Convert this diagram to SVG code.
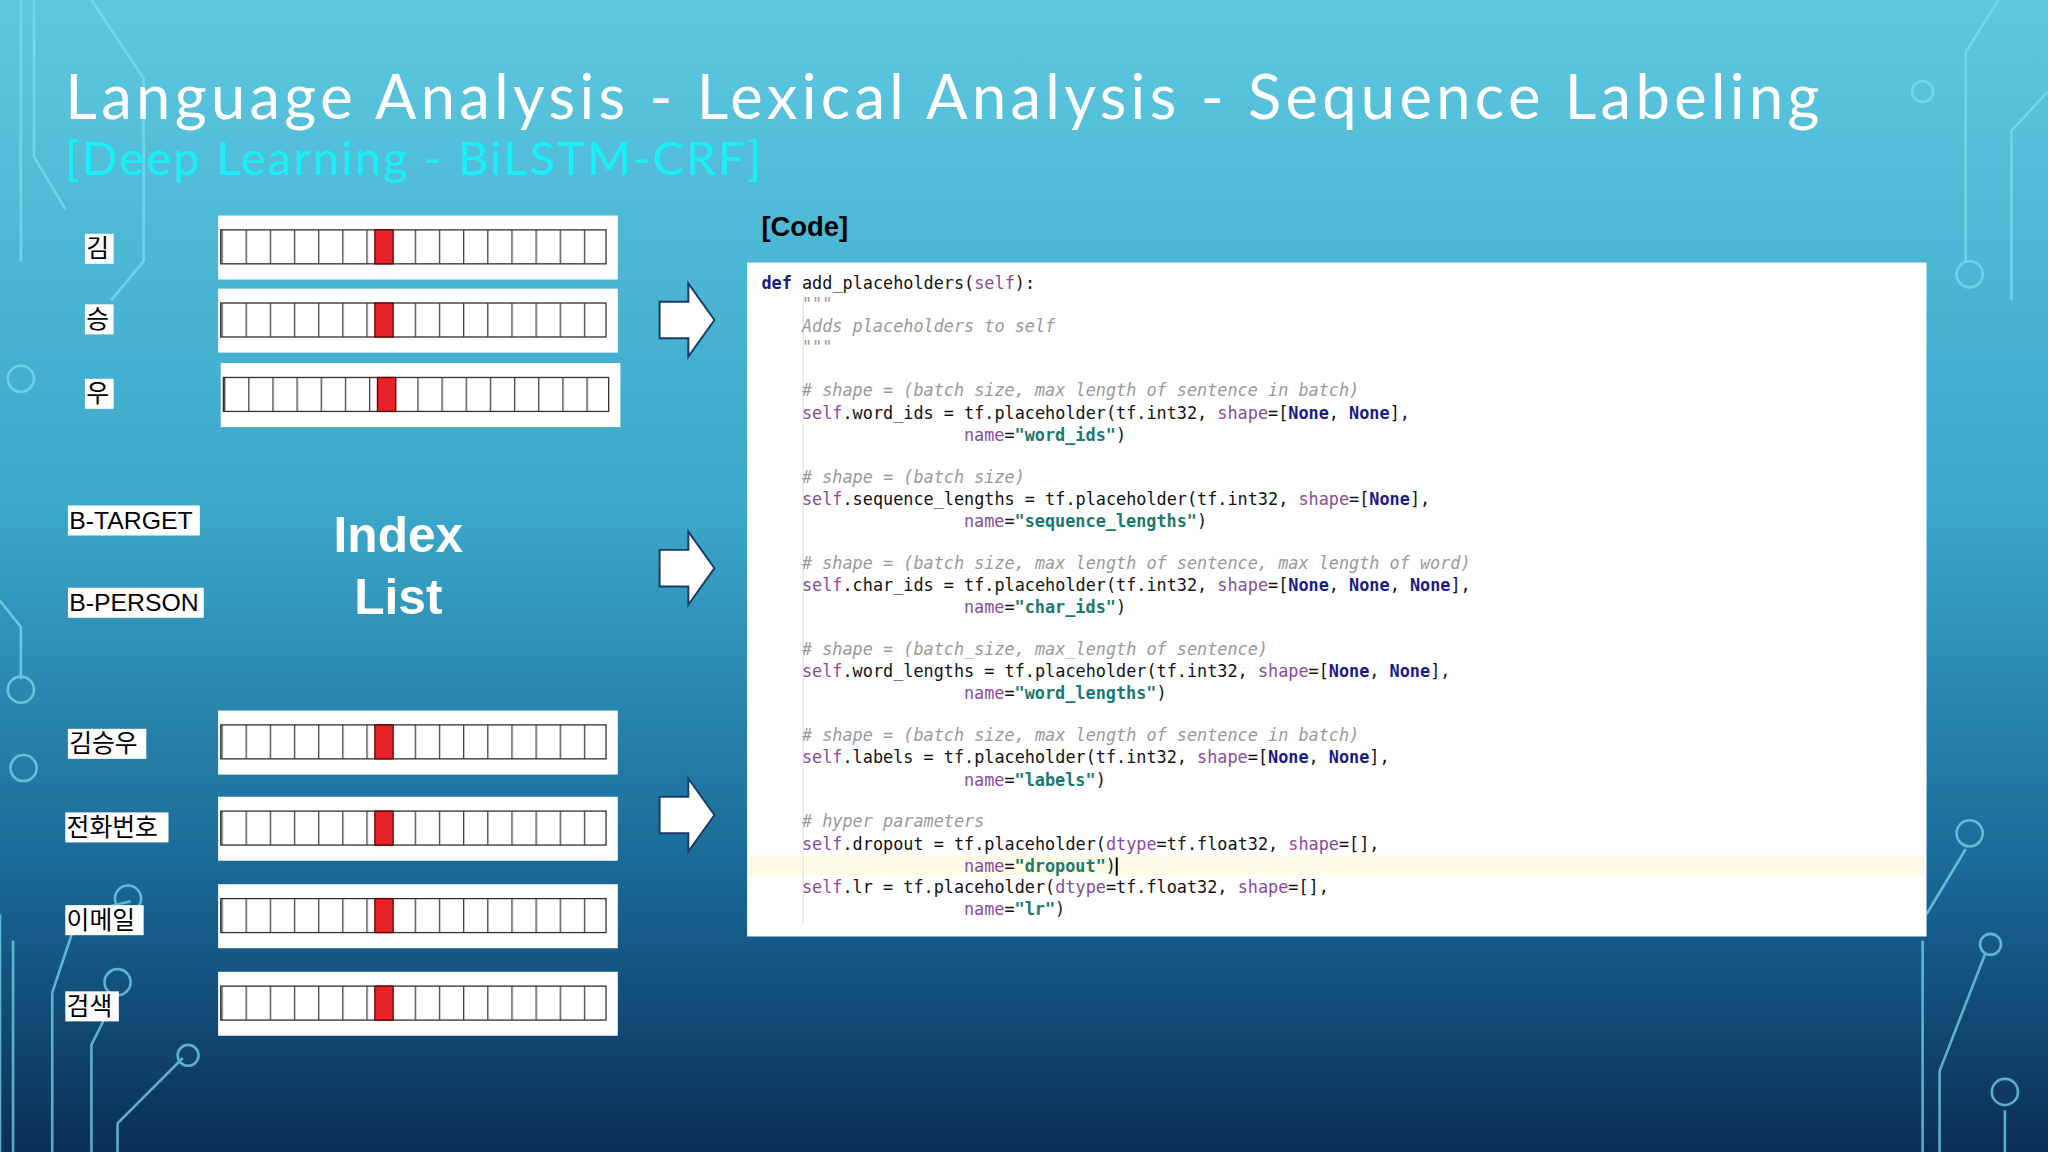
<svg xmlns="http://www.w3.org/2000/svg" width="2048" height="1152" viewBox="0 0 2048 1152">
<defs>
<linearGradient id="bg" x1="0" y1="0" x2="0" y2="1">
<stop offset="0" stop-color="#5ec8e0"/><stop offset="0.45" stop-color="#3aa6c8"/><stop offset="0.75" stop-color="#1a6a98"/><stop offset="1" stop-color="#0a2e58"/>
</linearGradient>
<pattern id="cells" x="169" y="0" width="18.5" height="10" patternUnits="userSpaceOnUse">
<line x1="0.5" y1="0" x2="0.5" y2="10" stroke="#444" stroke-width="1"/>
</pattern>
<g id="vec">
<rect x="0" y="0" width="306" height="49" fill="#fff"/>
<rect x="2" y="11" width="295" height="26" fill="url(#cells)" stroke="#333" stroke-width="1"/>
<rect x="120" y="11" width="14" height="26" fill="#e8222a" stroke="#600" stroke-width="1"/>
</g>
<path id="arr" d="M0,14 H22 V0 L42,28 L22,56 V42 H0 Z" fill="#fff" stroke="#1a3a6a" stroke-width="1.5"/>
</defs>
<style>
.lab{font-family:"Liberation Sans","Noto Sans CJK KR",sans-serif;font-size:19px;fill:#000}
.code{font-family:"DejaVu Sans Mono",monospace;font-size:12.9px;fill:#111;white-space:pre}
.cm{fill:#999;font-style:italic}
.kw{fill:#1a1a8a;font-weight:bold}
.sf{fill:#8a4aa0}
.st{fill:#1a7a70;font-weight:bold}
.circ{fill:none;stroke:#7fe0f0;stroke-width:2;opacity:0.7}
</style>
<rect width="2048" height="1152" fill="url(#bg)"/>
<g transform="scale(1.30612)">
<g class="circ">
<path d="M16,0 V200 M26,0 V120 L50,160 M70,0 L110,60 V200 L85,230 M0,460 L16,480 V520"/>
<circle cx="16" cy="290" r="10"/><circle cx="16" cy="528" r="10"/><circle cx="18" cy="588" r="10"/>
<path d="M0,700 V882 M10,720 V882 M40,760 V882 M60,700 L40,760 M100,690 L60,700 M90,760 L70,800 V882 M140,810 L90,860 V882"/>
<circle cx="98" cy="688" r="10"/><circle cx="90" cy="752" r="10"/><circle cx="144" cy="808" r="8"/>
<path d="M1530,0 L1505,40 V200 M1568,70 L1540,100 V230 M1475,700 L1505,650 M1472,720 V882 M1520,730 L1485,820 V882 M1535,850 V882"/>
<circle cx="1508" cy="210" r="10"/><circle cx="1472" cy="70" r="8"/><circle cx="1508" cy="638" r="10"/><circle cx="1524" cy="723" r="8"/><circle cx="1535" cy="836" r="10"/>
</g>
<text x="50" y="91" font-family="Lato,'Open Sans',sans-serif" font-size="47" fill="#fff" textLength="1343" lengthAdjust="spacing">Language Analysis - Lexical Analysis - Sequence Labeling</text>
<text x="50" y="134" font-family="Lato,'Open Sans',sans-serif" font-size="36" fill="#18f0f8" textLength="533" lengthAdjust="spacing">[Deep Learning - BiLSTM-CRF]</text>

<g id="tok1"><rect x="65" y="179" width="22" height="23" fill="#fff"/><text class="lab" x="66" y="197">김</text></g>
<g id="tok2"><rect x="65" y="233" width="22" height="23" fill="#fff"/><text class="lab" x="66" y="251">승</text></g>
<g id="tok3"><rect x="65" y="290" width="22" height="23" fill="#fff"/><text class="lab" x="66" y="308">우</text></g>
<g id="vec1"><use href="#vec" x="167" y="165"/></g>
<g id="vec2"><use href="#vec" x="167" y="221"/></g>
<g id="vec3"><use href="#vec" x="169" y="278"/></g>

<g id="lb1"><rect x="52" y="387" width="101" height="23" fill="#fff"/><text class="lab" x="53" y="405">B-TARGET</text></g>
<g id="lb2"><rect x="52" y="450" width="104" height="23" fill="#fff"/><text class="lab" x="53" y="468">B-PERSON</text></g>
<g id="idx"><text x="305" y="423" text-anchor="middle" font-family="'Liberation Sans',sans-serif" font-weight="bold" font-size="38" fill="#fff">Index</text>
<text x="305" y="470" text-anchor="middle" font-family="'Liberation Sans',sans-serif" font-weight="bold" font-size="38" fill="#fff">List</text></g>

<g id="w1"><rect x="52" y="558" width="60" height="23" fill="#fff"/><text class="lab" x="53" y="576">김승우</text></g>
<g id="w2"><rect x="50" y="622" width="79" height="23" fill="#fff"/><text class="lab" x="51" y="640">전화번호</text></g>
<g id="w3"><rect x="50" y="693" width="60" height="23" fill="#fff"/><text class="lab" x="51" y="711">이메일</text></g>
<g id="w4"><rect x="50" y="759" width="41" height="23" fill="#fff"/><text class="lab" x="51" y="777">검색</text></g>
<g id="vec4"><use href="#vec" x="167" y="544"/></g>
<g id="vec5"><use href="#vec" x="167" y="610"/></g>
<g id="vec6"><use href="#vec" x="167" y="677"/></g>
<g id="vec7"><use href="#vec" x="167" y="744"/></g>

<g id="connectors">
<use href="#arr" x="505" y="217"/>
<use href="#arr" x="505" y="407"/>
<use href="#arr" x="505" y="596"/>
</g>

<g id="code">
<text x="583" y="181" font-family="'Liberation Sans',sans-serif" font-weight="bold" font-size="21" fill="#000">[Code]</text>
<rect x="572" y="201" width="903" height="516" fill="#fff"/>
<rect x="573" y="655" width="900" height="15" fill="#fdfbe8"/>
<line x1="615" y1="226" x2="615" y2="707" stroke="#e4e4e4"/>
<g transform="translate(0,1.5)">
<text class="code" x="583" y="220"><tspan class="kw">def</tspan> add_placeholders(<tspan class="sf">self</tspan>):</text>
<text class="code cm" x="614" y="236">"""</text>
<text class="code cm" x="614" y="253">Adds placeholders to self</text>
<text class="code cm" x="614" y="269">"""</text>
<text class="code cm" x="614" y="302"># shape = (batch size, max length of sentence in batch)</text>
<text class="code" x="614" y="319"><tspan class="sf">self</tspan>.word_ids = tf.placeholder(tf.int32, <tspan class="sf">shape</tspan>=[<tspan class="kw">None</tspan>, <tspan class="kw">None</tspan>],</text>
<text class="code" x="738" y="336"><tspan class="sf">name</tspan>=<tspan class="st">"word_ids"</tspan>)</text>
<text class="code cm" x="614" y="368"># shape = (batch size)</text>
<text class="code" x="614" y="385"><tspan class="sf">self</tspan>.sequence_lengths = tf.placeholder(tf.int32, <tspan class="sf">shape</tspan>=[<tspan class="kw">None</tspan>],</text>
<text class="code" x="738" y="402"><tspan class="sf">name</tspan>=<tspan class="st">"sequence_lengths"</tspan>)</text>
<text class="code cm" x="614" y="434"># shape = (batch size, max length of sentence, max length of word)</text>
<text class="code" x="614" y="451"><tspan class="sf">self</tspan>.char_ids = tf.placeholder(tf.int32, <tspan class="sf">shape</tspan>=[<tspan class="kw">None</tspan>, <tspan class="kw">None</tspan>, <tspan class="kw">None</tspan>],</text>
<text class="code" x="738" y="468"><tspan class="sf">name</tspan>=<tspan class="st">"char_ids"</tspan>)</text>
<text class="code cm" x="614" y="500"># shape = (batch_size, max_length of sentence)</text>
<text class="code" x="614" y="517"><tspan class="sf">self</tspan>.word_lengths = tf.placeholder(tf.int32, <tspan class="sf">shape</tspan>=[<tspan class="kw">None</tspan>, <tspan class="kw">None</tspan>],</text>
<text class="code" x="738" y="534"><tspan class="sf">name</tspan>=<tspan class="st">"word_lengths"</tspan>)</text>
<text class="code cm" x="614" y="566"># shape = (batch size, max length of sentence in batch)</text>
<text class="code" x="614" y="583"><tspan class="sf">self</tspan>.labels = tf.placeholder(tf.int32, <tspan class="sf">shape</tspan>=[<tspan class="kw">None</tspan>, <tspan class="kw">None</tspan>],</text>
<text class="code" x="738" y="600"><tspan class="sf">name</tspan>=<tspan class="st">"labels"</tspan>)</text>
<text class="code cm" x="614" y="632"># hyper parameters</text>
<text class="code" x="614" y="649"><tspan class="sf">self</tspan>.dropout = tf.placeholder(<tspan class="sf">dtype</tspan>=tf.float32, <tspan class="sf">shape</tspan>=[],</text>
<text class="code" x="738" y="666"><tspan class="sf">name</tspan>=<tspan class="st">"dropout"</tspan>)</text>
<line x1="855" y1="655" x2="855" y2="669" stroke="#000" stroke-width="1.5"/>
<text class="code" x="614" y="682"><tspan class="sf">self</tspan>.lr = tf.placeholder(<tspan class="sf">dtype</tspan>=tf.float32, <tspan class="sf">shape</tspan>=[],</text>
<text class="code" x="738" y="699"><tspan class="sf">name</tspan>=<tspan class="st">"lr"</tspan>)</text>
</g>
</g>
</g>
</svg>
